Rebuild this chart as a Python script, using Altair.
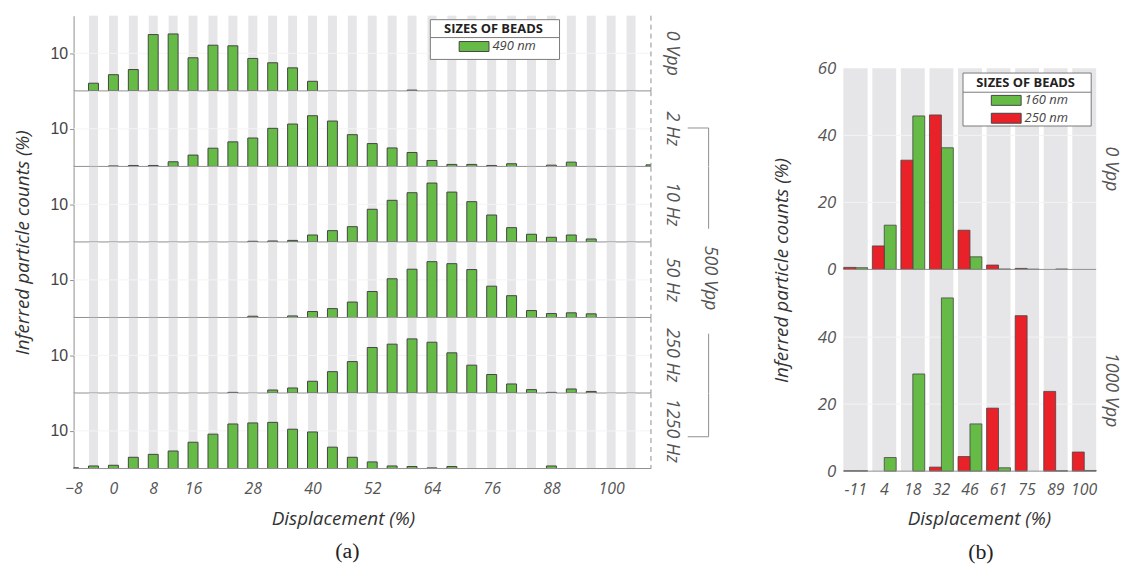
import altair as alt
import pandas as pd

N = None

# ------------------------------------------------------------------
# Panel (a): 490 nm beads, inferred particle counts (log axis)
# ------------------------------------------------------------------
a_disp = [-8, -4, 0, 4, 8, 12, 16, 20, 24, 28, 32, 36, 40, 44, 48, 52,
          56, 60, 64, 68, 72, 76, 80, 84, 88, 92, 96, 100, 104, 108]
a_bins = [-4, 0, 4, 8, 12, 16, 20, 24, 28, 32, 36, 40, 44, 48, 52, 56,
          60, 64, 68, 72, 76, 80, 84, 88, 92, 96, 100, 104]
a_ticks = [-8, 0, 8, 16, 28, 40, 52, 64, 76, 88, 100]
a_labels = ["0 Vpp", "2 Hz", "10 Hz", "50 Hz", "250 Hz", "1250 Hz"]

a_0vpp = [N, 1.6, 2.7, 3.7, 31.5, 32.7, 7.6, 16.4, 15.8, 7.3, 5.6, 4.1, 1.8, N, N,
          N, N, 1.05, N, N, N, N, N, N, N, N, N, N, N, N]
a_2hz = [N, N, 1.03, 1.06, 1.06, 1.33, 2.0, 3.05, 4.5, 5.7, 10.3, 13.4, 22.3, 16.1, 7.0,
         4.05, 3.1, 2.35, 1.44, 1.13, 1.13, 1.06, 1.18, N, 1.08, 1.3, N, N, N, 1.1]
a_10hz = [N, N, N, N, N, N, N, N, N, 1.04, 1.06, 1.1, 1.53, 2.0, 2.55,
          7.4, 12.8, 20.4, 36.8, 21.2, 11.8, 5.2, 2.4, 1.6, 1.33, 1.53, 1.2, N, N, N]
a_50hz = [N, N, N, N, N, N, N, N, N, 1.08, N, 1.1, 1.44, 1.72, 2.57,
          4.9, 10.7, 19.2, 30.5, 27.0, 18.8, 6.8, 3.8, 1.53, 1.27, 1.33, 1.25, N, N, N]
a_250hz = [N, N, N, N, N, N, N, N, 1.04, N, 1.2, 1.36, 2.05, 3.7, 6.85,
           16.2, 19.9, 27.5, 22.4, 11.7, 5.5, 3.1, 1.74, 1.23, 1.04, 1.28, 1.1, N, N, N]
a_1250hz = [1.05, 1.17, 1.22, 1.99, 2.38, 2.92, 5.0, 8.2, 15.3, 16.3, 16.9, 11.1, 9.4, 3.7, 1.99,
            1.5, 1.17, 1.13, 1.04, 1.13, N, N, N, N, 1.17, N, N, N, N, N]
a_series = [a_0vpp, a_2hz, a_10hz, a_50hz, a_250hz, a_1250hz]

# ------------------------------------------------------------------
# Panel (b): 160 nm and 250 nm beads (linear axis)
# ------------------------------------------------------------------
b_cats = ["-11", "4", "18", "32", "46", "61", "75", "89", "100"]
b_sizes = ["160 nm", "250 nm"]
b_labels = ["0 Vpp", "1000 Vpp"]
b_0vpp_160 = [0.5, 13.2, 45.8, 36.3, 3.75, 0.1, 0.05, 0.1, N]
b_0vpp_250 = [0.6, 7.0, 32.6, 46.1, 11.7, 1.3, 0.3, N, N]
b_1000vpp_160 = [0.1, 4.06, 29.0, 51.7, 14.1, 1.0, N, 0.1, 0.2]
b_1000vpp_250 = [0.1, N, N, 1.2, 4.36, 18.8, 46.4, 23.8, 5.7]
b_series = [(b_0vpp_160, b_0vpp_250), (b_1000vpp_160, b_1000vpp_250)]

# ------------------------------------------------------------------
GREEN = "#66bb46"
RED = "#e92128"
STRIPE = "#e6e5e7"
EDGE = "#454545"
AXC = "#8f8f8f"
LBL = "#555555"
TTL = "#333333"
FONT = "Open Sans"

W_A, H_A = 581, 75.67
W_B, H_B = 254, 202.3

xs_a = alt.Scale(domain=[-8, 108], nice=False, zero=False, padding=0)
ys_a = alt.Scale(type="log", domain=[1, 100], nice=False)
xs_b = alt.Scale(domain=b_cats, paddingInner=0.165, paddingOuter=0)
ys_b = alt.Scale(domain=[0, 60], nice=False, zero=True)


def beads_legend(lx, ly):
    return alt.Legend(
        title="SIZES OF BEADS", orient="none", legendX=lx, legendY=ly,
        titleFont=FONT, titleFontSize=13, titleFontWeight="bold", titleColor="#222222",
        titleAnchor="middle", titlePadding=4,
        labelFont=FONT, labelFontSize=13, labelFontStyle="italic", labelColor="#444444",
        symbolType="M-3,-1H3V1H-3Z", symbolSize=100, symbolStrokeColor=EDGE,
        symbolStrokeWidth=1, symbolOpacity=1, symbolOffset=16, labelOffset=12,
        rowPadding=3, padding=6,
    )


def one(**kw):
    return pd.DataFrame({k: [v] for k, v in kw.items()})


def vrule(x, y1, y2):
    return alt.Chart(one(k=0)).mark_rule(color=AXC, strokeWidth=1).encode(
        x=alt.value(x), y=alt.value(y1), y2=alt.value(y2))


def hrule(x1, x2, y, color=AXC):
    return alt.Chart(one(k=0)).mark_rule(color=color, strokeWidth=1).encode(
        x=alt.value(x1), x2=alt.value(x2), y=alt.value(y))


def legend_box(x1, x2, y1, y2, ysep):
    box = alt.Chart(one(k=0)).mark_rect(fill="white", stroke="#7a7a7a", strokeWidth=1).encode(
        x=alt.value(x1), x2=alt.value(x2), y=alt.value(y1), y2=alt.value(y2))
    return [box, hrule(x1, x2, ysep, color="#7a7a7a")]


def side_text(txt, x, y, size=18):
    return alt.Chart(one(t=txt)).mark_text(
        angle=90, font=FONT, fontStyle="italic", fontSize=size, color=LBL,
        align="center", baseline="middle").encode(
        text="t:N", x=alt.value(x), y=alt.value(y))


def a_row(i):
    last = i == len(a_labels) - 1
    if last:
        xa = alt.Axis(values=a_ticks, title="Displacement (%)", titleX=271,
                      labelFontSize=16, labelFontStyle="italic", labelColor=LBL,
                      labelPadding=12, ticks=False, tickSize=0, domain=False, grid=False,
                      labelFlush=False, titleFontSize=19, titleFontStyle="italic",
                      titleFontWeight="normal", titleColor=TTL, titlePadding=13)
    else:
        xa = None
    ykw = dict(values=[10], format="d", grid=False, labelFont="Liberation Sans",
               labelFontSize=16, labelColor="#444444", tickSize=4, tickColor=AXC,
               domainColor=AXC, labelPadding=2)
    if i == 3:
        ya = alt.Axis(title="Inferred particle counts (%)", titleX=-45, titleY=0,
                      titleAngle=270, titleBaseline="alphabetic", titleAlign="center",
                      titleFontSize=19, titleFontStyle="italic", titleFontWeight="normal",
                      titleColor=TTL, **ykw)
    else:
        ya = alt.Axis(title=None, **ykw)

    X = alt.X("disp:Q", scale=xs_a, axis=xa)
    sdf = pd.DataFrame({"disp": a_bins})
    sdf["top"] = 100
    sdf["bot"] = 1
    stripes = alt.Chart(sdf).mark_bar(size=9, color=STRIPE).encode(
        x=X, y=alt.Y("top:Q", scale=ys_a, axis=ya), y2="bot:Q")
    grid = alt.Chart(one(c=10)).mark_rule(color="#f4f4f4", strokeWidth=1).encode(
        y=alt.Y("c:Q", scale=ys_a, axis=ya))
    df = pd.DataFrame({"disp": a_disp, "count": a_series[i]})
    df["size"] = "490 nm"
    df = df.dropna(subset=["count"])
    enc = dict(x=X, y=alt.Y("count:Q", scale=ys_a, axis=ya), y2=alt.datum(1))
    if i == 0:
        bars = alt.Chart(df).mark_bar(size=10, stroke=EDGE, strokeWidth=1, clip=True).encode(
            color=alt.Color("size:N", scale=alt.Scale(domain=["490 nm"], range=[GREEN]),
                            legend=beads_legend(366.5, 1.5)), **enc)
    else:
        bars = alt.Chart(df).mark_bar(size=10, fill=GREEN, stroke=EDGE, strokeWidth=1,
                                      clip=True).encode(**enc)
    base = alt.Chart(one(c=1)).mark_rule(color=AXC, strokeWidth=1).encode(
        y=alt.Y("c:Q", scale=ys_a, axis=ya))
    edge = alt.Chart(one(disp=108)).mark_rule(color=AXC, strokeDash=[5, 4]).encode(x=X)
    layers = [stripes, grid, bars, base, edge, side_text(a_labels[i], W_A + 21, H_A / 2)]

    bx, tx = W_A + 58, W_A + 37
    if i == 0:
        layers += legend_box(359, 489, 4, 44, 22)
    if i == 1:
        layers += [hrule(tx, bx, 37), vrule(bx, 37, H_A)]
    if i == 2:
        layers.append(vrule(bx, 0, 62.4))
    if i == 3:
        layers.append(side_text("500 Vpp", bx + 1, 36))
    if i == 4:
        layers.append(vrule(bx, 16, H_A))
    if i == 5:
        layers += [vrule(bx, 0, 43.7), hrule(tx, bx, 43.7)]
    return alt.layer(*layers).properties(width=W_A, height=H_A)


def b_row(j):
    first, last = j == 0, j == 1
    if last:
        xb = alt.Axis(title="Displacement (%)", titleX=136, labelAngle=0,
                      labelFontStyle="italic", labelFontSize=16, labelColor=LBL,
                      labelPadding=11, ticks=False, tickSize=0, domain=False,
                      titleFontSize=19, titleFontStyle="italic", titleFontWeight="normal",
                      titleColor=TTL, titlePadding=12)
    else:
        xb = None
    ykw = dict(values=[0, 20, 40, 60] if first else [0, 20, 40], grid=False,
               labelFontStyle="italic", labelFontSize=17, labelColor=LBL,
               ticks=False, tickSize=0, labelPadding=8, domainColor="#c8c8c8")
    if last:
        yb = alt.Axis(title="Inferred particle counts (%)", titleX=-57, titleY=0,
                      titleAngle=270, titleBaseline="alphabetic", titleAlign="center",
                      titleFontSize=19, titleFontStyle="italic", titleFontWeight="normal",
                      titleColor=TTL, **ykw)
    else:
        yb = alt.Axis(title=None, **ykw)

    X = alt.X("disp:N", scale=xs_b, axis=xb)
    stripes = alt.Chart(pd.DataFrame({"disp": b_cats})).mark_rect(color=STRIPE).encode(x=X)
    grid = alt.Chart(pd.DataFrame({"c": [20, 40]})).mark_rule(
        color="#f4f4f4", strokeWidth=1).encode(y=alt.Y("c:Q", scale=ys_b, axis=yb))
    recs = []
    for size, vals in zip(b_sizes, b_series[j]):
        for cat, v in zip(b_cats, vals):
            if v is not None:
                recs.append({"disp": cat, "size": size, "count": v})
    df = pd.DataFrame(recs)
    bars = alt.Chart(df).mark_bar(stroke=EDGE, strokeWidth=0.8).encode(
        x=X,
        xOffset=alt.XOffset("size:N", scale=alt.Scale(domain=["250 nm", "160 nm"])),
        y=alt.Y("count:Q", scale=ys_b, axis=yb),
        color=alt.Color("size:N", scale=alt.Scale(domain=b_sizes, range=[GREEN, RED]),
                        legend=beads_legend(127, 2.7) if first else None),
    )
    base = alt.Chart(one(c=0)).mark_rule(color=AXC, strokeWidth=1).encode(
        y=alt.Y("c:Q", scale=ys_b, axis=yb))
    label_y = H_B / 2 if first else 120.7
    layers = [stripes, grid, bars, base, side_text(b_labels[j], W_B + 15, label_y)]
    if first:
        layers += legend_box(120, 249, 4.7, 58, 24)
    return alt.layer(*layers).properties(width=W_B, height=H_B)


rows_a = [a_row(i) for i in range(len(a_labels))]
panel_a = alt.vconcat(*rows_a, spacing=0, bounds="flush").resolve_scale(
    color="independent").resolve_legend(color="independent").properties(
    title=alt.TitleParams("(a)", orient="bottom", anchor="middle", font="Liberation Serif",
                          fontSize=22, fontWeight="normal", color="#222222", offset=13, dx=-19))

spacer = alt.Chart(one(t="")).mark_text().encode(
    text="t:N", x=alt.value(0), y=alt.value(26)).properties(width=W_B, height=53)
panel_b = alt.vconcat(spacer, b_row(0), b_row(1), spacing=0, bounds="flush").resolve_scale(
    color="independent").resolve_legend(color="independent").properties(
    title=alt.TitleParams("(b)", orient="bottom", anchor="middle", font="Liberation Serif",
                          fontSize=22, fontWeight="normal", color="#222222", offset=13, dx=35))

chart = alt.hconcat(panel_a, panel_b, spacing=52).resolve_scale(
    color="independent").resolve_legend(color="independent").properties(
    padding={"left": 5, "top": 5, "right": 2, "bottom": 0}, background="white"
).configure_view(stroke="transparent").configure_axis(labelFont=FONT, titleFont=FONT)

chart.save("out.html", embed_options={"renderer": "svg", "actions": False})
